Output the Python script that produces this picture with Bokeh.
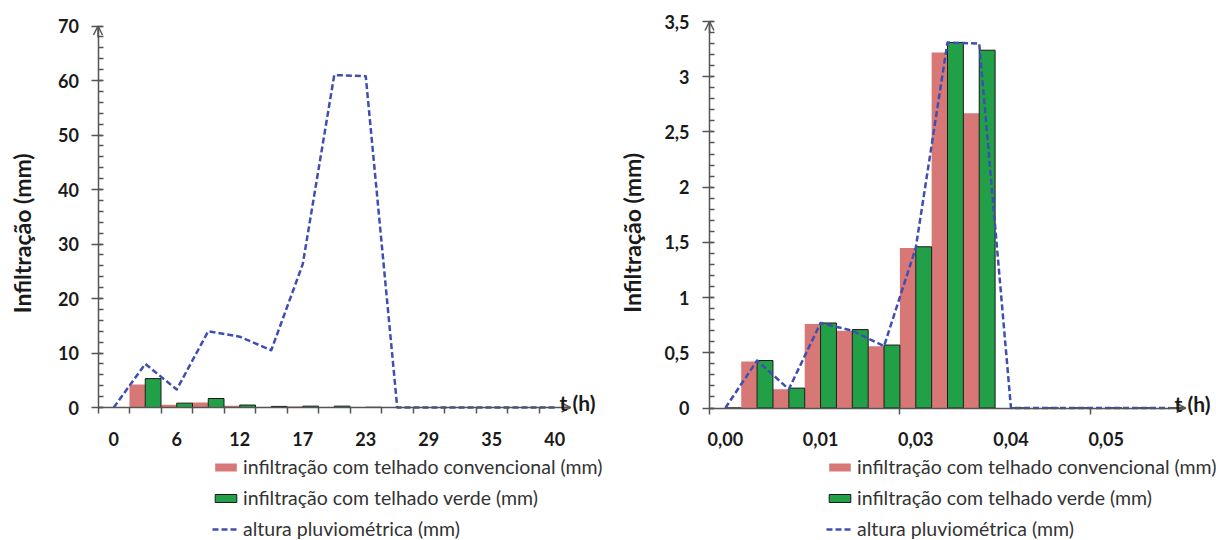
import numpy as np
from bokeh.plotting import figure
from bokeh.models import (FixedTicker, Range1d, Legend, LegendItem, Arrow, OpenHead,
                          Label, CustomJSTickFormatter)
from bokeh.layouts import row
from bokeh.embed import file_html
from bokeh.resources import INLINE

# ---------------- data ----------------
# left chart: 15 time steps, labels shown on every 2nd step
left_xlabels = ["0", "6", "12", "17", "23", "29", "35", "40"]
left_conv = [0, 4.2, 0.5, 0.9, 0.3, 0.1, 0.2, 0.1, 0.1, 0, 0, 0, 0, 0, 0]
left_green = [0, 5.3, 0.8, 1.65, 0.45, 0.2, 0.25, 0.25, 0.05, 0, 0, 0, 0, 0, 0]
left_rain = [0, 8.0, 3.3, 14.0, 13.0, 10.5, 26.3, 61.0, 60.8, 0, 0, 0, 0, 0, 0]

# right chart: 15 time steps, labels shown on every 3rd step
right_xlabels = ["0,00", "0,01", "0,03", "0,04", "0,05"]
right_conv = [0, 0.42, 0.17, 0.76, 0.70, 0.56, 1.45, 3.22, 2.67, 0, 0, 0, 0, 0, 0]
right_green = [0, 0.43, 0.18, 0.77, 0.71, 0.57, 1.46, 3.31, 3.24, 0, 0, 0, 0, 0, 0]
right_rain = [0, 0.43, 0.17, 0.77, 0.70, 0.56, 1.45, 3.31, 3.30, 0, 0, 0, 0, 0, 0]

series_names = ["infiltração com telhado convencional (mm)",
                "infiltração com telhado verde (mm)",
                "altura pluviométrica (mm)"]

RED = "#D77876"
GREEN = "#21A047"
BLUE = "#3E4FB3"
AXIS = "#555555"
FONT = "Lato"
W, H = 608, 540


def make_chart(conv, green, rain, xlabels, label_step, tick_step, y_max, y_major, y_minor,
               ax_left, ax_right, ax_top, ax_bottom, tick_standoff, legend_x,
               ylab_dx, ylab_dy):
    """ax_* : pixel position of the axes inside the figure (layout only)."""
    n = len(conv)
    idx = np.arange(n)
    kx = (ax_right - ax_left) / n
    ky = (ax_bottom - ax_top) / y_max
    p = figure(width=W, height=H,
               x_range=Range1d(-ax_left / kx, n + (W - ax_right) / kx),
               y_range=Range1d(-(H - ax_bottom) / ky, y_max + ax_top / ky),
               output_backend="svg", toolbar_location=None, min_border=0)
    p.xgrid.visible = False
    p.ygrid.visible = False
    p.outline_line_color = None
    p.background_fill_color = "white"
    p.border_fill_color = "white"

    r1 = p.vbar(x=idx + 0.25, top=conv, width=0.5, fill_color=RED, line_color=None)
    r2 = p.vbar(x=idx + 0.75, top=green, width=0.5, fill_color=GREEN,
                line_color="#1a1a1a", line_width=1)
    r3 = p.line(x=idx + 0.5, y=rain, line_color=BLUE, line_width=2.5, line_dash="6 3",
                line_join="round")

    # x axis (crossing at y = 0)
    xa = p.xaxis[0]
    xa.fixed_location = 0
    xa.bounds = (0, n)
    major = [float(i + 0.5) for i in idx[::label_step]]
    xa.ticker = FixedTicker(ticks=major, minor_ticks=[float(i) for i in idx[::tick_step]])
    xa.major_label_overrides = {t: lab for t, lab in zip(major, xlabels)}
    xa.major_tick_in = 0
    xa.major_tick_out = 0
    xa.minor_tick_in = 0
    xa.minor_tick_out = 6
    xa.minor_tick_line_color = AXIS
    xa.minor_tick_line_width = 1.5
    xa.axis_line_color = AXIS
    xa.axis_line_width = 1.5
    xa.major_label_standoff = 18
    xa.major_label_text_font = FONT
    xa.major_label_text_font_style = "bold"
    xa.major_label_text_font_size = "18px"
    xa.major_label_text_color = "#1a1a1a"

    # y axis (crossing at x = 0)
    ya = p.yaxis[0]
    ya.fixed_location = 0
    ya.bounds = (0, y_max)
    ya.ticker = FixedTicker(ticks=y_major, minor_ticks=y_minor)
    ya.formatter = CustomJSTickFormatter(code="return String(tick).replace('.', ',')")
    ya.major_tick_in = 4
    ya.major_tick_out = 7
    ya.minor_tick_in = 5
    ya.minor_tick_out = 0
    ya.major_tick_line_color = AXIS
    ya.minor_tick_line_color = AXIS
    ya.major_tick_line_width = 1.5
    ya.minor_tick_line_width = 1.5
    ya.axis_line_color = AXIS
    ya.axis_line_width = 1.5
    ya.major_label_standoff = tick_standoff
    ya.major_label_text_font = FONT
    ya.major_label_text_font_style = "bold"
    ya.major_label_text_font_size = "18px"
    ya.major_label_text_color = "#1a1a1a"

    # axis arrows
    p.add_layout(Arrow(end=OpenHead(size=9, line_color=AXIS, line_width=1.5),
                       x_start=n - 0.3, y_start=0, x_end=n, y_end=0,
                       line_color=AXIS, line_width=1.5))
    p.add_layout(Arrow(end=OpenHead(size=9, line_color=AXIS, line_width=1.5),
                       x_start=0, y_start=y_max * 0.97, x_end=0, y_end=y_max,
                       line_color=AXIS, line_width=1.5))

    # axis titles
    p.add_layout(Label(x=n, y=0, x_offset=7, y_offset=5, text="t (h)", text_align="center",
                       text_baseline="alphabetic", text_font=FONT, text_font_style="bold",
                       text_font_size="21px", text_color="#1a1a1a"))
    p.add_layout(Label(x=0, y=y_max / 2, x_offset=ylab_dx, y_offset=ylab_dy,
                       text="Infiltração (mm)", angle=np.pi / 2, text_align="center",
                       text_baseline="middle", text_font=FONT, text_font_style="bold",
                       text_font_size="23px", text_color="#1a1a1a"))

    legend = Legend(items=[LegendItem(label=series_names[0], renderers=[r1]),
                           LegendItem(label=series_names[1], renderers=[r2]),
                           LegendItem(label=series_names[2], renderers=[r3])],
                    location=(legend_x, 0), orientation="vertical",
                    glyph_width=27, glyph_height=10, label_height=23, spacing=8,
                    padding=0, margin=0, label_standoff=4,
                    label_text_font=FONT, label_text_font_size="19.5px",
                    label_text_color="#333333",
                    background_fill_alpha=0, border_line_alpha=0)
    p.add_layout(legend)
    return p


left = make_chart(left_conv, left_green, left_rain, left_xlabels, 2, 1, 70,
                  list(range(0, 71, 10)), list(range(0, 71, 2)),
                  97.5, 570, 25.5, 407, 12, 212, -76, -16.5)
right = make_chart(right_conv, right_green, right_rain, right_xlabels, 3, 6, 3.5,
                   [i * 0.5 for i in range(8)], [round(i * 0.1, 1) for i in range(36)],
                   101, 577, 21, 407.5, 13, 218, -78, -18)

layout = row(left, right, spacing=0)
open("out.html", "w").write(file_html(layout, INLINE))
